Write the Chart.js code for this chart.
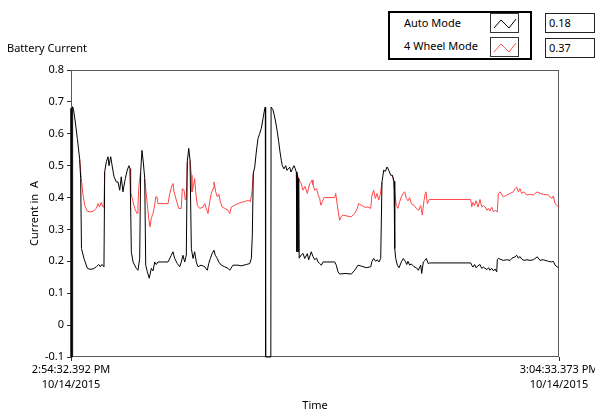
<!DOCTYPE html>
<html>
<head>
<meta charset="utf-8">
<script src="https://cdn.jsdelivr.net/npm/chart.js@4.4.1/dist/chart.umd.min.js"></script>
<style>
  html, body { margin: 0; padding: 0; background: #fff; }
  body { width: 595px; height: 412px; position: relative; overflow: hidden; font-family: "Noto Sans", "Open Sans", sans-serif; color: #000; }
  #c { position: absolute; left: 0; top: 0; }
  .abs { position: absolute; white-space: nowrap; font-size: 11px; line-height: 14px; }
  #legend { position: absolute; left: 388px; top: 11px; width: 140px; height: 45px; border: 2px solid #000; background: #fff; }
  .lgtext { position: absolute; left: 14px; font-size: 11px; line-height: 14px; }
  .sw { position: absolute; left: 100px; width: 27px; height: 18px; border: 1px solid #333; background: #fff; }
  .val { position: absolute; left: 545px; width: 45px; height: 18px; border: 1px solid #222; font-size: 11px; line-height: 18px; padding-left: 3px; box-sizing: content-box; background: #fff; }
</style>
</head>
<body>
<canvas id="c" width="595" height="412"></canvas>
<div class="abs" style="left:7px; top:41px;">Battery Current</div>
<div id="legend">
  <div class="lgtext" style="top:3px;">Auto Mode</div>
  <div class="sw" style="top:0px;"><svg width="27" height="18"><polyline points="3,14 10,6 18,14 25,5" fill="none" stroke="#000" stroke-width="1"/></svg></div>
  <div class="lgtext" style="top:26px;">4 Wheel Mode</div>
  <div class="sw" style="top:24px;"><svg width="27" height="18"><polyline points="3,14 10,6 18,14 25,5" fill="none" stroke="#ff5555" stroke-width="1"/></svg></div>
</div>
<div class="val" style="top:13px;" id="v1"></div>
<div class="val" style="top:38px;" id="v2"></div>
<script>
// ---- data (time in seconds from 2:54:32.392 PM, current in A) ----
const seriesNames = ['Auto Mode', '4 Wheel Mode'];
const durationSec = 600.981;
const startTickLabel = ['2:54:32.392 PM', '10/14/2015'];
const endTickLabel = ['3:04:33.373 PM', '10/14/2015'];
const indicatorValues = ['0.18', '0.37'];

const autoTime = [0,0.2,1.6,2.0,3.1,5.3,7.8,10.7,11.9,12.9,16.0,20.1,23.4,27.1,31.2,34.1,36.1,38.2,40.6,41.5,43.5,45.6,46.8,48.9,50.9,53.0,55.8,57.9,60.0,61.9,64.0,66.9,69.3,71.4,72.7,74.3,76.4,80.4,82.5,84.6,85.8,87.4,89.0,90.8,92.0,94.0,96.4,98.9,101.0,103.1,105.1,107.1,119.5,123.5,125.6,127.7,130.9,133.9,135.8,137.9,140.0,142.0,143.2,145.0,146.6,148.2,150.3,152.3,154.3,156.4,160.1,164.7,167.9,169.6,171.6,173.7,176.1,177.7,180.2,181.9,185.1,189.3,193.4,195.5,199.5,205.7,209.7,215.9,220.1,222.1,223.3,224.5,226.3,228.2,230.3,232.4,234.4,236.5,238.6,239.3,239.7,246.1,246.4,248.8,251.6,254.1,255.8,257.4,259.0,260.2,262.3,264.4,266.0,267.3,269.4,270.9,272.2,274.6,276.2,277.5,278.3,279.0,279.6,280.4,281.0,283.6,285.7,287.8,291.0,292.7,295.9,298.0,300.1,302.4,304.2,306.3,308.3,310.4,324.8,326.7,328.8,330.9,337.5,345.2,349.4,353.5,357.5,363.7,369.1,370.7,372.8,375.3,377.2,379.3,381.4,383.0,385.1,387.1,389.2,391.3,393.7,395.7,397.8,398.7,399.9,401.9,404.0,406.8,409.3,411.7,413.5,415.0,417.1,419.1,422.4,425.3,427.7,430.7,431.9,433.9,436.0,437.6,440.0,441.8,492.3,493.5,495.1,497.0,498.8,501.3,503.7,505.8,508.0,509.9,512.3,514.2,516.0,518.1,520.3,522.2,524.3,525.0,526.3,528.4,532.4,536.6,540.7,543.1,546.8,548.9,550.9,553.0,555.1,557.9,561.6,565.3,569.4,574.3,577.6,581.7,587.9,592.0,594.0,596.1,600.2,600.98];
const autoValues = [0.68,-0.1,-0.1,0.685,0.675,0.637,0.585,0.52,0.46,0.24,0.209,0.178,0.175,0.176,0.183,0.19,0.183,0.19,0.183,0.481,0.512,0.528,0.50,0.528,0.496,0.465,0.449,0.449,0.423,0.465,0.418,0.46,0.486,0.50,0.491,0.23,0.198,0.178,0.172,0.209,0.481,0.548,0.512,0.46,0.188,0.167,0.147,0.178,0.17,0.198,0.19,0.198,0.198,0.219,0.23,0.209,0.193,0.183,0.198,0.219,0.198,0.22,0.512,0.554,0.517,0.24,0.209,0.23,0.198,0.183,0.188,0.183,0.172,0.193,0.209,0.224,0.235,0.219,0.209,0.198,0.188,0.183,0.178,0.172,0.188,0.188,0.186,0.19,0.193,0.209,0.282,0.476,0.496,0.543,0.585,0.601,0.617,0.648,0.679,0.684,-0.1,-0.1,0.684,0.675,0.643,0.606,0.575,0.543,0.517,0.50,0.49,0.50,0.485,0.49,0.495,0.48,0.487,0.50,0.49,0.48,0.23,0.47,0.23,0.46,0.21,0.22,0.225,0.209,0.224,0.205,0.23,0.215,0.205,0.21,0.198,0.193,0.188,0.198,0.198,0.188,0.167,0.16,0.162,0.16,0.172,0.188,0.185,0.18,0.183,0.2,0.209,0.2,0.205,0.198,0.209,0.449,0.486,0.482,0.496,0.486,0.47,0.47,0.451,0.24,0.209,0.188,0.18,0.198,0.209,0.2,0.19,0.2,0.188,0.192,0.183,0.18,0.172,0.188,0.162,0.198,0.203,0.209,0.193,0.195,0.195,0.188,0.182,0.19,0.18,0.186,0.19,0.178,0.182,0.178,0.174,0.18,0.172,0.178,0.17,0.176,0.167,0.205,0.209,0.207,0.203,0.205,0.203,0.21,0.214,0.219,0.21,0.215,0.207,0.203,0.205,0.203,0.205,0.214,0.203,0.205,0.2,0.198,0.2,0.188,0.18,0.18];

// null where the 4 Wheel Mode trace lies under the Auto Mode trace
const wheelTime = [0,0.2,1.6,2.0,3.1,5.3,7.8,10.7,11.9,12.7,14.8,16.9,20.1,23.4,27.1,31.2,33.3,35.1,37.3,39.4,40.6,41.5,43.5,45.6,46.8,48.9,50.9,53.0,55.8,57.9,60.0,61.9,64.0,66.9,69.3,71.4,72.7,73.5,76.4,78.5,81.3,82.5,83.7,85.8,87.4,89.0,90.8,91.5,93.6,95.7,97.3,98.9,101.0,103.1,104.3,105.9,107.1,119.5,121.6,124.4,125.6,126.9,129.7,132.6,135.8,137.1,139.2,140.8,142.0,143.2,145.0,146.6,148.2,149.0,151.1,152.3,153.6,155.5,158.5,162.6,164.7,166.6,168.7,170.8,172.8,174.9,176.1,178.2,180.2,182.3,183.9,186.3,189.3,193.4,195.5,197.4,201.6,205.7,209.7,213.9,218.0,220.8,222.9,224.5,226.3,228.2,230.3,232.4,234.4,236.5,238.6,239.3,239.7,246.1,246.4,248.8,251.6,254.1,255.8,257.4,259.0,260.2,262.3,264.4,266.0,267.3,269.4,270.9,272.2,274.6,276.2,277.5,279.6,282.0,283.6,285.7,288.2,291.0,294.0,295.9,296.8,298.0,300.1,302.4,304.2,306.3,307.6,309.1,311.6,324.8,326.0,328.0,329.7,330.9,332.9,335.0,339.9,345.2,349.4,352.6,354.3,357.5,361.7,365.8,369.1,370.7,372.8,374.8,376.9,379.0,380.9,383.0,385.1,387.1,389.2,391.3,393.7,395.7,396.6,398.7,400.6,402.7,404.8,406.8,408.9,411.0,413.0,415.0,417.1,419.1,422.4,425.3,428.2,430.7,432.6,434.7,436.3,437.2,438.8,441.3,492.3,493.5,495.1,497.0,498.8,501.3,503.7,505.8,508.0,509.9,512.3,514.0,516.0,518.1,520.3,522.2,525.0,526.3,528.4,532.4,536.6,540.7,544.8,546.8,548.9,550.9,553.0,555.1,557.9,561.2,565.3,569.4,574.3,577.6,581.7,587.9,592.0,594.0,596.1,600.2,600.98];
const wheelValues = [null,null,null,null,null,null,null,0.52,0.48,0.46,0.408,0.376,0.357,0.355,0.357,0.366,0.381,0.37,0.385,0.37,0.37,0.481,
  null,null,null,null,null,null,null,null,null,null,null,null,null,null,
  0.491,0.418,0.387,0.366,0.35,0.376,0.439,0.481,null,null,0.46,
  0.439,0.387,0.335,0.308,0.335,0.35,0.376,0.402,0.402,0.381,0.381,0.413,0.439,0.444,0.418,0.392,0.366,0.366,0.428,0.423,0.392,0.40,
  0.512,null,0.517,
  0.47,0.418,0.44,0.46,0.418,0.376,0.366,0.37,0.381,0.366,0.35,0.387,0.413,0.428,0.449,0.418,0.402,0.41,0.387,0.37,0.366,0.36,0.35,0.37,0.376,0.381,0.385,0.387,0.392,0.387,0.418,0.476,
  null,null,null,null,null,null,null,null,null,null,null,null,null,null,null,null,null,null,null,null,null,null,null,null,null,null,null,
  0.48,
  0.465,0.45,0.444,0.423,0.435,0.413,0.444,0.449,0.455,0.44,0.423,0.428,0.41,0.397,0.376,0.385,0.40,0.40,0.413,0.376,0.345,0.329,0.34,0.345,0.342,0.34,0.35,0.366,0.381,0.376,0.37,0.37,0.366,0.408,0.423,0.397,0.413,0.392,0.41,
  0.449,null,null,null,null,null,0.47,0.46,
  0.418,0.376,0.366,0.387,0.402,0.413,0.418,0.397,0.39,0.40,0.381,0.376,0.366,0.36,0.375,0.345,0.39,0.413,0.418,0.381,0.394,
  0.394,0.371,0.385,0.375,0.39,0.37,0.394,0.371,0.375,0.371,0.36,0.366,0.358,0.37,0.355,0.36,0.355,0.413,0.418,0.402,0.408,0.413,0.418,0.428,0.433,0.418,0.428,0.413,0.418,0.408,0.41,0.408,0.418,0.413,0.41,0.408,0.397,0.405,0.381,0.371,0.37];

document.getElementById('v1').textContent = indicatorValues[0];
document.getElementById('v2').textContent = indicatorValues[1];

const FONT = { family: '"Noto Sans", "Open Sans", sans-serif', size: 11 };

const zip = (t, v) => t.map((x, i) => ({ x: x, y: v[i] }));

const framePlugin = {
  id: 'frame',
  beforeDatasetsDraw(chart) {
    const a = chart.chartArea, ctx = chart.ctx;
    ctx.save();
    ctx.strokeStyle = '#5a5a5a';
    ctx.lineWidth = 1;
    ctx.strokeRect(Math.round(a.left) + 0.5, Math.round(a.top) + 0.5, Math.round(a.right - a.left) - 1, Math.round(a.bottom - a.top) - 1);
    ctx.restore();
  }
};

new Chart(document.getElementById('c'), {
  type: 'line',
  data: {
    datasets: [
      { label: seriesNames[0], data: zip(autoTime, autoValues), borderColor: '#000000', borderWidth: 1, pointRadius: 0, tension: 0, fill: false, clip: 2 },
      { label: seriesNames[1], data: zip(wheelTime, wheelValues), borderColor: 'rgb(255,70,70)', borderWidth: 1, pointRadius: 0, tension: 0, fill: false, clip: 2, spanGaps: false }
    ]
  },
  options: {
    responsive: false,
    animation: false,
    events: [],
    layout: { padding: { top: 70, right: 36, left: 0, bottom: 0 } },
    plugins: { legend: { display: false }, tooltip: { enabled: false }, title: { display: false } },
    scales: {
      x: {
        type: 'linear',
        min: 0,
        max: durationSec,
        afterBuildTicks: s => { s.ticks = [{ value: s.min }, { value: s.max }]; },
        afterFit: s => { s.height = 55; s.paddingLeft = 0; s.paddingRight = 0; },
        ticks: {
          autoSkip: false, maxRotation: 0, minRotation: 0, padding: 1, color: '#000',
          font: Object.assign({}, FONT, { lineHeight: 1.36 }),
          callback: (v, i) => (i === 0 ? startTickLabel : endTickLabel)
        },
        grid: { drawOnChartArea: false, drawTicks: true, tickLength: 4, color: '#333' },
        border: { display: false },
        title: { display: true, text: 'Time', color: '#000', font: FONT, padding: { top: 0, bottom: 0 } }
      },
      y: {
        min: -0.1,
        max: 0.8,
        afterFit: s => { s.width = 71; s.paddingTop = 0; s.paddingBottom = 0; },
        ticks: {
          stepSize: 0.1, padding: 3, color: '#000', font: FONT,
          callback: v => String(Math.round(v * 10) / 10)
        },
        grid: { drawOnChartArea: false, drawTicks: true, tickLength: 4, color: '#333' },
        border: { display: false },
        title: { display: true, text: 'Current in  A', color: '#000', font: FONT, padding: { top: 28, bottom: 0 } }
      }
    }
  },
  plugins: [framePlugin]
});
</script>
</body>
</html>
